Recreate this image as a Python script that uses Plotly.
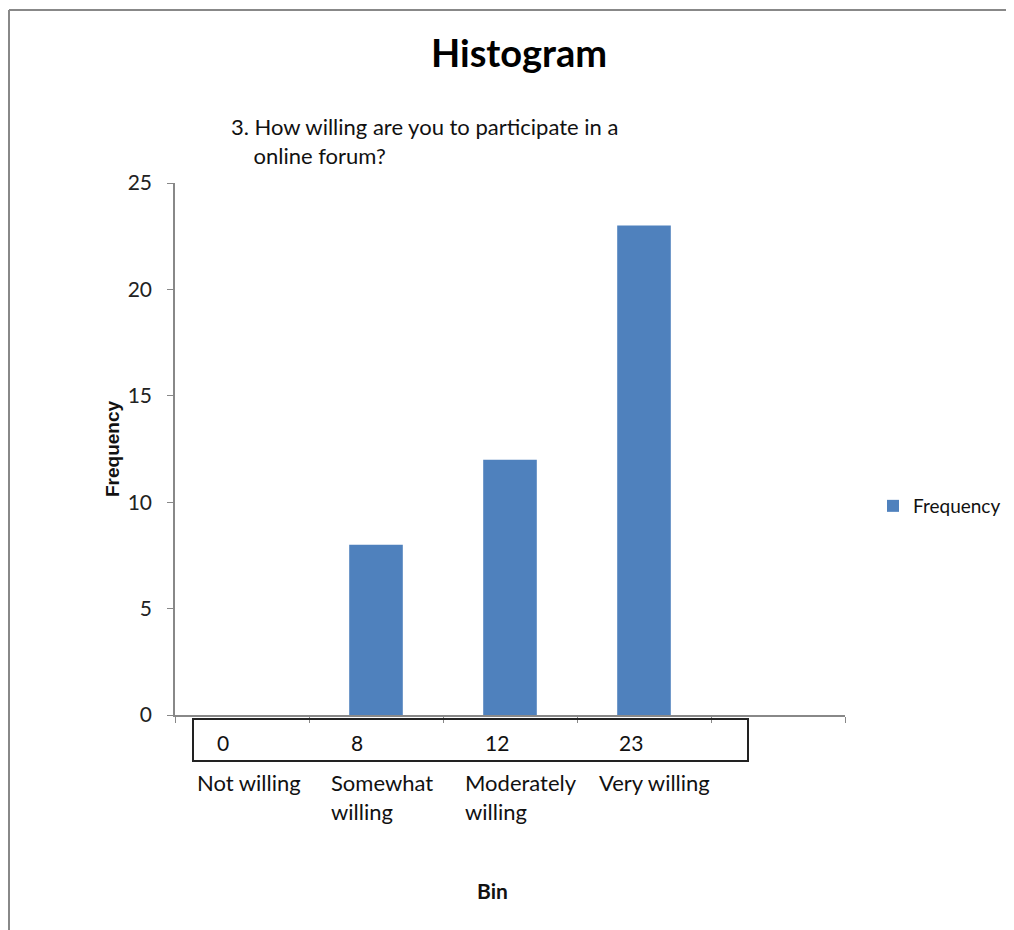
import plotly.graph_objects as go

categories = ["Not willing", "Somewhat willing", "Moderately willing", "Very willing", "More"]
frequency = [0, 8, 12, 23, 0]
cat_labels = ["Not willing", "Somewhat<br>willing", "Moderately<br>willing", "Very willing", ""]
table_values = ["0", "8", "12", "23"]

FONT = "Lato, Open Sans, sans-serif"
BLUE = "#4F81BD"
OFF = 8  # page body margin offset

W, H = 1014 - OFF, 930 - OFF
# desired screen positions of plot area
SL, SR, ST, SB = 175, 845, 183, 715
L = SL - OFF
R = W - (SR - OFF)
T = ST - OFF
B = H - (SB - OFF)
pw, ph = SR - SL, SB - ST

def px(x):
    return (x - SL) / pw

def py(y):
    return (SB - y) / ph

fig = go.Figure()
fig.add_trace(go.Bar(
    x=categories, y=frequency, name="Frequency",
    marker=dict(color=BLUE, line=dict(width=0)), width=0.4,
))

annotations = []
for cat, lab in zip(categories, cat_labels):
    if lab:
        annotations.append(dict(x=cat, xref="x", y=py(767), yref="paper", text=lab,
                                showarrow=False, xanchor="left", yanchor="top", align="left",
                                xshift=-47, font=dict(family=FONT, size=22, color="#111")))
for cat, v in zip(categories, table_values):
    annotations.append(dict(x=cat, xref="x", y=py(742), yref="paper", text=v,
                            showarrow=False, xanchor="left", yanchor="middle", xshift=-27,
                            font=dict(family=FONT, size=21, color="#111")))
annotations += [
    dict(x=px(519), y=py(52), xref="paper", yref="paper", text="<b>Histogram</b>", showarrow=False,
         xanchor="center", yanchor="middle", font=dict(family=FONT, size=38, color="#000")),
    dict(x=px(229), y=py(141), xref="paper", yref="paper",
         text="3. How willing are you to participate in a<br>    online forum?", showarrow=False,
         xanchor="left", yanchor="middle", align="left", font=dict(family=FONT, size=22, color="#111")),
    dict(x=px(492), y=py(890), xref="paper", yref="paper", text="<b>Bin</b>", showarrow=False,
         xanchor="center", yanchor="middle", font=dict(family=FONT, size=21, color="#111")),
    dict(x=px(112), y=py(449), xref="paper", yref="paper", text="<b>Frequency</b>", showarrow=False,
         textangle=-90, xanchor="center", yanchor="middle",
         font=dict(family="Liberation Sans Narrow, Arial Narrow, sans-serif", size=19, color="#111")),
]

shapes = [
    dict(type="rect", xref="paper", yref="paper", x0=px(193), x1=px(748), y0=py(761), y1=py(719),
         line=dict(color="#222", width=2), fillcolor="rgba(0,0,0,0)"),
    dict(type="line", xref="paper", yref="paper", x0=px(9), x1=px(1030), y0=py(10), y1=py(10),
         line=dict(color="#888", width=2)),
    dict(type="line", xref="paper", yref="paper", x0=px(9), x1=px(9), y0=py(10), y1=py(950),
         line=dict(color="#888", width=2)),
]

fig.update_layout(
    width=W, height=H,
    margin=dict(l=L, r=R, t=T, b=B, pad=0, autoexpand=False),
    paper_bgcolor="white", plot_bgcolor="white",
    font=dict(family=FONT, size=16, color="#222"),
    showlegend=True,
    legend=dict(xref="container", yref="container",
                x=(873 - OFF) / W, y=1 - (506 - OFF) / H, xanchor="left", yanchor="middle",
                font=dict(family=FONT, size=19, color="#111"), itemwidth=30,
                bgcolor="rgba(0,0,0,0)"),
    annotations=annotations, shapes=shapes,
    bargap=0.6,
)
fig.update_xaxes(showticklabels=False, ticks="outside", tickson="boundaries", ticklen=6,
                 tickcolor="#888", showline=True, linecolor="#888", linewidth=1.5,
                 showgrid=False, zeroline=False)
fig.update_yaxes(range=[0, 25], dtick=5, ticks="outside", ticklen=6, tickcolor="#888",
                 showline=True, linecolor="#888", linewidth=1.5, showgrid=False, zeroline=False,
                 tickfont=dict(family=FONT, size=21, color="#222"), ticklabelstandoff=11)

fig.write_html("out.html")
